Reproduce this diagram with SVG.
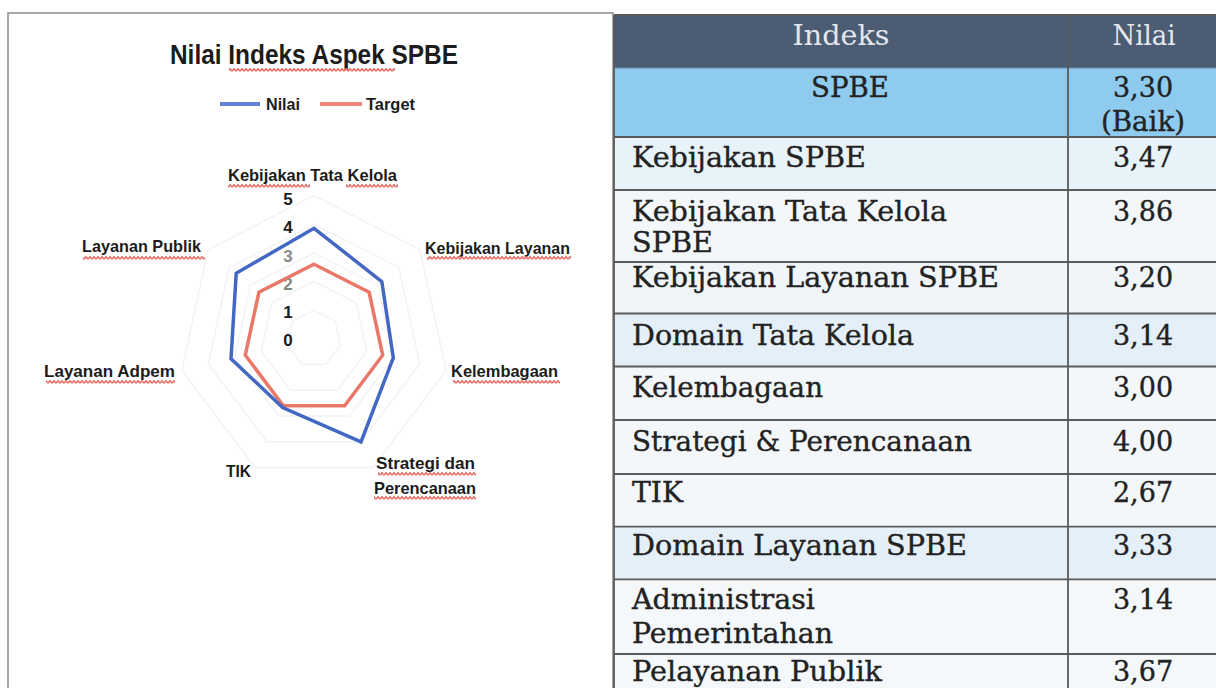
<svg xmlns="http://www.w3.org/2000/svg" width="1216" height="688" viewBox="0 0 1216 688">
<style>
.lbl{font-family:"Liberation Sans",Arial,sans-serif;font-weight:bold;font-size:17px;fill:#1c1c1c}
.ttl{font-family:"Liberation Sans",Arial,sans-serif;font-weight:bold;font-size:28px;fill:#1c1c1c}
.tx{font-family:"DejaVu Serif","Liberation Serif",serif;font-size:27px;fill:#222;stroke:#222;stroke-width:0.35}
.hd{font-family:"DejaVu Serif","Liberation Serif",serif;font-size:27px;fill:#e4e8ee}
.val{font-family:"DejaVu Serif","Liberation Serif",serif;font-size:27px;fill:#222;stroke:#222;stroke-width:0.35;text-anchor:middle}
.grid{fill:none;stroke:#f3f3f3;stroke-width:1.5}
.rl{stroke:#5a5a5a;stroke-width:1.8}
.sq{fill:url(#sq)}
</style>
<defs>
<pattern id="sq" width="4" height="4" patternUnits="userSpaceOnUse"><path d="M0,3.3 L2,0.7 L4,3.3" fill="none" stroke="#e5746b" stroke-width="1.6"/></pattern>
</defs>
<rect width="1216" height="688" fill="#fff"/>

<g id="chart">
<rect x="8" y="13" width="605" height="690" fill="#fff" stroke="#8a8a8a" stroke-width="1.5"/>
<text class="ttl" x="170" y="64" textLength="288" lengthAdjust="spacingAndGlyphs">Nilai Indeks Aspek SPBE</text>
<rect class="sq" x="229" y="68" width="166" height="4"/>
<g id="legend">
<line x1="220" y1="104" x2="260" y2="104" stroke="#5f82d2" stroke-width="4"/>
<text class="lbl" x="266" y="110" font-size="16" textLength="34" lengthAdjust="spacingAndGlyphs">Nilai</text>
<line x1="320" y1="104" x2="362" y2="104" stroke="#f0877c" stroke-width="4"/>
<text class="lbl" x="366" y="110" font-size="16" textLength="49" lengthAdjust="spacingAndGlyphs">Target</text>
</g>
<g id="gridlines">
<polygon class="grid" points="314,310.1 335.2,320.9 340.4,345.1 325.8,364.5 302.2,364.5 287.6,345.1 292.8,320.9"/>
<polygon class="grid" points="314,281.5 356.4,303.0 366.8,351.4 337.5,390.2 290.5,390.2 261.2,351.4 271.6,303.0"/>
<polygon class="grid" points="314,252.9 377.6,285.2 393.3,357.8 349.3,416.0 278.7,416.0 234.7,357.8 250.4,285.2"/>
<polygon class="grid" points="314,224.3 398.7,267.4 419.7,364.2 361.0,441.8 267.0,441.8 208.3,364.2 229.3,267.4"/>
<polygon class="grid" points="314,195.7 419.9,249.5 446.1,370.5 372.8,467.5 255.2,467.5 181.9,370.5 208.1,249.5"/>
</g>
<g id="axis-labels" class="lbl" text-anchor="middle">
<text x="288" y="205">5</text>
<text x="288" y="233">4</text>
<text x="288" y="262" fill="#8a8a8a">3</text>
<text x="288" y="290" fill="#7f8a80">2</text>
<text x="288" y="318">1</text>
<text x="288" y="346">0</text>
</g>
<g id="series">
<polygon id="target" points="314,264.3 369.1,292.3 382.7,355.2 344.6,405.7 283.4,405.7 245.3,355.2 258.9,292.3" fill="none" stroke="#ea7868" stroke-width="3.5" stroke-linejoin="miter"/>
<polygon id="nilai" points="314,228.3 381.8,281.6 393.3,357.8 361.0,441.8 282.6,407.5 231.0,358.7 236.2,273.3" fill="none" stroke="#4268c4" stroke-width="3.5" stroke-linejoin="miter"/>
</g>
<g id="category-labels">
<text class="lbl" x="228" y="181" textLength="169" lengthAdjust="spacingAndGlyphs">Kebijakan Tata Kelola</text>
<rect class="sq" x="228" y="184" width="82" height="4"/>
<rect class="sq" x="346" y="184" width="52" height="4"/>
<text class="lbl" x="425" y="254" textLength="145" lengthAdjust="spacingAndGlyphs">Kebijakan Layanan</text>
<rect class="sq" x="427" y="256" width="144" height="4"/>
<text class="lbl" x="451" y="377" textLength="107" lengthAdjust="spacingAndGlyphs">Kelembagaan</text>
<rect class="sq" x="453" y="380" width="107" height="4"/>
<text class="lbl" x="376" y="469" textLength="99" lengthAdjust="spacingAndGlyphs">Strategi dan</text>
<rect class="sq" x="378" y="472" width="98" height="4"/>
<text class="lbl" x="374" y="494" textLength="102" lengthAdjust="spacingAndGlyphs">Perencanaan</text>
<rect class="sq" x="374" y="496" width="102" height="4"/>
<text class="lbl" x="226" y="477" textLength="25" lengthAdjust="spacingAndGlyphs">TIK</text>
<text class="lbl" x="44" y="377" textLength="131" lengthAdjust="spacingAndGlyphs">Layanan Adpem</text>
<rect class="sq" x="46" y="380" width="129" height="4"/>
<text class="lbl" x="82" y="252" textLength="119" lengthAdjust="spacingAndGlyphs">Layanan Publik</text>
<rect class="sq" x="83" y="256" width="122" height="4"/>
</g>
</g>

<g id="table">
<rect x="614" y="15" width="610" height="53" fill="#4b5c73"/>
<rect x="614" y="68" width="610" height="69" fill="#8ecbef"/>
<rect x="614" y="137" width="610" height="53" fill="#e8f2f9"/>
<rect x="614" y="190" width="610" height="72" fill="#f4f7fa"/>
<rect x="614" y="262" width="610" height="51.5" fill="#f0f5f9"/>
<rect x="614" y="313.5" width="610" height="53" fill="#e4eff8"/>
<rect x="614" y="366.5" width="610" height="53.5" fill="#f3f7fa"/>
<rect x="614" y="420" width="610" height="54" fill="#f3f7fa"/>
<rect x="614" y="474" width="610" height="52.7" fill="#f3f7fa"/>
<rect x="614" y="526.7" width="610" height="52.6" fill="#e4eff8"/>
<rect x="614" y="579.3" width="610" height="74.7" fill="#f5f8fa"/>
<rect x="614" y="654" width="610" height="40" fill="#f5f8fa"/>
<g id="rules">
<line class="rl" x1="614" y1="15" x2="1216" y2="15"/>
<line x1="614" y1="68" x2="1216" y2="68" stroke="#6f8aa5" stroke-width="1"/>
<line class="rl" x1="614" y1="137" x2="1216" y2="137"/>
<line class="rl" x1="614" y1="190" x2="1216" y2="190"/>
<line class="rl" x1="614" y1="262" x2="1216" y2="262"/>
<line class="rl" x1="614" y1="313.5" x2="1216" y2="313.5"/>
<line class="rl" x1="614" y1="366.5" x2="1216" y2="366.5"/>
<line class="rl" x1="614" y1="420" x2="1216" y2="420"/>
<line class="rl" x1="614" y1="474" x2="1216" y2="474"/>
<line class="rl" x1="614" y1="526.7" x2="1216" y2="526.7"/>
<line class="rl" x1="614" y1="579.3" x2="1216" y2="579.3"/>
<line class="rl" x1="614" y1="654" x2="1216" y2="654"/>
<line class="rl" x1="614" y1="15" x2="614" y2="688"/>
<line class="rl" x1="1068" y1="15" x2="1068" y2="688"/>
</g>
<g id="header">
<text class="hd" x="841" y="45" text-anchor="middle" textLength="97" lengthAdjust="spacingAndGlyphs">Indeks</text>
<text class="hd" x="1144" y="45" text-anchor="middle" textLength="63" lengthAdjust="spacingAndGlyphs">Nilai</text>
</g>
<g id="row-spbe">
<text class="tx" x="850" y="97" text-anchor="middle" fill="#34404c" stroke="none" textLength="78" lengthAdjust="spacingAndGlyphs">SPBE</text>
<text class="val" x="1143" y="97" fill="#34404c" stroke="none">3,30</text>
<text class="val" x="1143" y="131" fill="#34404c" stroke="none" textLength="84" lengthAdjust="spacingAndGlyphs">(Baik)</text>
</g>
<g id="rows">
<text class="tx" x="632" y="167" textLength="234" lengthAdjust="spacingAndGlyphs">Kebijakan SPBE</text>
<text class="val" x="1143" y="167">3,47</text>
<text class="tx" x="632" y="221" textLength="315" lengthAdjust="spacingAndGlyphs">Kebijakan Tata Kelola</text>
<text class="tx" x="632" y="252" textLength="81" lengthAdjust="spacingAndGlyphs">SPBE</text>
<text class="val" x="1143" y="221">3,86</text>
<text class="tx" x="632" y="287" textLength="367" lengthAdjust="spacingAndGlyphs">Kebijakan Layanan SPBE</text>
<text class="val" x="1143" y="287">3,20</text>
<text class="tx" x="632" y="345" textLength="282" lengthAdjust="spacingAndGlyphs">Domain Tata Kelola</text>
<text class="val" x="1143" y="345">3,14</text>
<text class="tx" x="632" y="397" textLength="191" lengthAdjust="spacingAndGlyphs">Kelembagaan</text>
<text class="val" x="1143" y="397">3,00</text>
<text class="tx" x="632" y="451" textLength="340" lengthAdjust="spacingAndGlyphs">Strategi &amp; Perencanaan</text>
<text class="val" x="1143" y="451">4,00</text>
<text class="tx" x="632" y="502" textLength="51" lengthAdjust="spacingAndGlyphs">TIK</text>
<text class="val" x="1143" y="502">2,67</text>
<text class="tx" x="632" y="555" textLength="335" lengthAdjust="spacingAndGlyphs">Domain Layanan SPBE</text>
<text class="val" x="1143" y="555">3,33</text>
<text class="tx" x="632" y="609" textLength="183" lengthAdjust="spacingAndGlyphs">Administrasi</text>
<text class="tx" x="632" y="643" textLength="201" lengthAdjust="spacingAndGlyphs">Pemerintahan</text>
<text class="val" x="1143" y="609">3,14</text>
<text class="tx" x="632" y="681" textLength="250" lengthAdjust="spacingAndGlyphs">Pelayanan Publik</text>
<text class="val" x="1143" y="681">3,67</text>
</g>
</g>
</svg>
